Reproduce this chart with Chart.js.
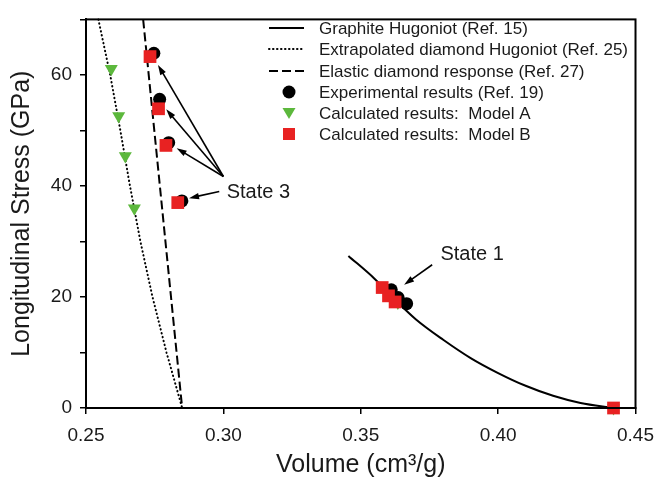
<!DOCTYPE html>
<html>
<head>
<meta charset="utf-8">
<script src="https://cdn.jsdelivr.net/npm/chart.js@4"></script>
<style>
  html, body { margin: 0; padding: 0; background: #fff; }
  #wrap { width: 664px; height: 481px; }
</style>
</head>
<body>
<div id="wrap"><canvas id="hugoniotChart" width="664" height="481"></canvas></div>
<script>
// graphite Hugoniot (Ref. 15)
const graphiteV = [0.3455, 0.3550, 0.3625, 0.3700, 0.3800, 0.3900, 0.4000, 0.4100, 0.4200, 0.4300, 0.4420];
const graphiteP = [27.4, 23.3, 19.5, 16.0, 12.3, 9.0, 6.3, 4.0, 2.2, 0.9, 0.0];

// extrapolated diamond Hugoniot (Ref. 25)
const diamondV = [0.2545, 0.2588, 0.2625, 0.2660, 0.2698, 0.2742, 0.2793, 0.2850];
const diamondP = [70, 60, 50, 40, 30, 20, 10, 0];

// elastic diamond response (Ref. 27)
const elasticV = [0.2708, 0.2850];
const elasticP = [70, 0];

// experimental results (Ref. 19)
const expV = [0.2747, 0.2768, 0.2801, 0.2849, 0.3611, 0.3636, 0.3667];
const expP = [63.9, 55.6, 47.8, 37.3, 21.3, 19.9, 18.8];

// model A
const modelAV = [0.2592, 0.2619, 0.2643, 0.2676, 0.3603, 0.3618, 0.3635, 0.4420];
const modelAP = [61.1, 52.6, 45.4, 36.0, 21.0, 20.0, 19.0, 0.0];

// model B
const modelBV = [0.2733, 0.2764, 0.2791, 0.2834, 0.3578, 0.3601, 0.3625, 0.4420];
const modelBP = [63.3, 53.9, 47.3, 37.0, 21.7, 20.2, 19.1, 0.0];

// annotations
const arrowFrom = [[0.3000, 41.7], [0.3000, 41.7], [0.3000, 41.7], [0.2985, 39.0], [0.3760, 25.8]];
const arrowTo = [[0.2762, 61.8], [0.2792, 53.8], [0.2830, 46.8], [0.2875, 37.8], [0.3658, 22.2]];
const noteText = ["State 3", "State 1"];
const notePos = [[0.3012, 38.8], [0.3790, 27.6]];

const legendLabels = [
  "Graphite Hugoniot (Ref. 15)",
  "Extrapolated diamond Hugoniot (Ref. 25)",
  "Elastic diamond response (Ref. 27)",
  "Experimental results (Ref. 19)",
  "Calculated results:  Model A",
  "Calculated results:  Model B"
];

const FONT = "'Liberation Sans', Arial, sans-serif";
const TXT = "#1a1a1a";
const GREEN = "#5cb83c";
const RED = "#e82222";

function pts(xs, ys) {
  return xs.map((x, i) => ({ x, y: ys[i] }));
}

// frame round the plot area
const framePlugin = {
  id: "frame",
  afterDatasetsDraw(chart) {
    const a = chart.chartArea;
    const ctx = chart.ctx;
    ctx.save();
    ctx.strokeStyle = "#000";
    ctx.lineWidth = 2;
    ctx.strokeRect(a.left, a.top, a.right - a.left, a.bottom - a.top);
    ctx.restore();
  }
};

function arrow(ctx, x1, y1, x2, y2) {
  const ang = Math.atan2(y2 - y1, x2 - x1);
  const len = 10, w = 3.2;
  ctx.beginPath();
  ctx.moveTo(x1, y1);
  ctx.lineTo(x2 - Math.cos(ang) * len * 0.7, y2 - Math.sin(ang) * len * 0.7);
  ctx.stroke();
  ctx.beginPath();
  ctx.moveTo(x2, y2);
  ctx.lineTo(x2 - Math.cos(ang) * len - Math.sin(ang) * w, y2 - Math.sin(ang) * len + Math.cos(ang) * w);
  ctx.lineTo(x2 - Math.cos(ang) * len + Math.sin(ang) * w, y2 - Math.sin(ang) * len - Math.cos(ang) * w);
  ctx.closePath();
  ctx.fill();
}

const notesPlugin = {
  id: "notes",
  afterDatasetsDraw(chart) {
    const xs = chart.scales.x, ys = chart.scales.y;
    const ctx = chart.ctx;
    ctx.save();
    ctx.strokeStyle = "#000";
    ctx.fillStyle = "#000";
    ctx.lineWidth = 1.6;
    arrowFrom.forEach((f, i) => {
      const t = arrowTo[i];
      arrow(ctx, xs.getPixelForValue(f[0]), ys.getPixelForValue(f[1]),
        xs.getPixelForValue(t[0]), ys.getPixelForValue(t[1]));
    });
    ctx.fillStyle = TXT;
    ctx.font = "20px " + FONT;
    ctx.textAlign = "left";
    ctx.textBaseline = "middle";
    noteText.forEach((t, i) => {
      ctx.fillText(t, xs.getPixelForValue(notePos[i][0]), ys.getPixelForValue(notePos[i][1]));
    });
    ctx.restore();
  }
};

// legend drawn by hand so the line samples and markers match
const legendPlugin = {
  id: "handLegend",
  afterDraw(chart) {
    const ctx = chart.ctx;
    const x0 = 269, x1 = 304, mx = 289, tx = 319;
    const rowY = [28, 49, 71, 92, 113, 134];
    ctx.save();
    ctx.strokeStyle = "#000";
    ctx.lineWidth = 2;
    // lines
    ctx.beginPath(); ctx.moveTo(x0, rowY[0]); ctx.lineTo(x1, rowY[0]); ctx.stroke();
    ctx.lineCap = "round";
    ctx.setLineDash([0.5, 3.5]);
    ctx.beginPath(); ctx.moveTo(x0, rowY[1]); ctx.lineTo(x1, rowY[1]); ctx.stroke();
    ctx.lineCap = "butt";
    ctx.setLineDash([9, 4]);
    ctx.beginPath(); ctx.moveTo(x0, rowY[2]); ctx.lineTo(x1, rowY[2]); ctx.stroke();
    ctx.setLineDash([]);
    // markers
    ctx.fillStyle = "#000";
    ctx.beginPath(); ctx.arc(mx, rowY[3], 6.5, 0, Math.PI * 2); ctx.fill();
    ctx.fillStyle = GREEN;
    ctx.beginPath();
    ctx.moveTo(mx - 6.5, rowY[4] - 5);
    ctx.lineTo(mx + 6.5, rowY[4] - 5);
    ctx.lineTo(mx, rowY[4] + 6);
    ctx.closePath(); ctx.fill();
    ctx.fillStyle = RED;
    ctx.fillRect(mx - 6, rowY[5] - 6, 12, 12);
    // texts
    ctx.fillStyle = TXT;
    ctx.font = "17px " + FONT;
    ctx.textAlign = "left";
    ctx.textBaseline = "middle";
    legendLabels.forEach((t, i) => ctx.fillText(t, tx, rowY[i] + 1));
    ctx.restore();
  }
};

const config = {
  type: "scatter",
  data: {
    datasets: [
      {
        label: legendLabels[5],
        data: pts(modelBV, modelBP),
        pointStyle: "rect",
        pointRadius: 9,
        pointHoverRadius: 9,
        backgroundColor: RED,
        borderColor: RED,
        borderWidth: 0,
        order: 1
      },
      {
        label: legendLabels[3],
        data: pts(expV, expP),
        pointStyle: "circle",
        pointRadius: 6.5,
        pointHoverRadius: 6.5,
        backgroundColor: "#000",
        borderColor: "#000",
        borderWidth: 0,
        order: 2
      },
      {
        label: legendLabels[4],
        data: pts(modelAV, modelAP),
        pointStyle: "triangle",
        rotation: 180,
        pointRadius: 7.5,
        pointHoverRadius: 7.5,
        backgroundColor: GREEN,
        borderColor: GREEN,
        borderWidth: 0,
        order: 3
      },
      {
        label: legendLabels[0],
        data: pts(graphiteV, graphiteP),
        showLine: true,
        cubicInterpolationMode: "monotone",
        borderColor: "#000",
        borderWidth: 2,
        pointRadius: 0,
        order: 4
      },
      {
        label: legendLabels[1],
        data: pts(diamondV, diamondP),
        showLine: true,
        borderColor: "#000",
        borderWidth: 2,
        borderCapStyle: "round",
        borderDash: [0.5, 3.5],
        pointRadius: 0,
        order: 5
      },
      {
        label: legendLabels[2],
        data: pts(elasticV, elasticP),
        showLine: true,
        borderColor: "#000",
        borderWidth: 2,
        borderDash: [9, 4],
        pointRadius: 0,
        order: 6
      }
    ]
  },
  options: {
    responsive: false,
    animation: false,
    clip: false,
    layout: { padding: { left: 0, right: 20, top: 9, bottom: 0 } },
    plugins: {
      legend: { display: false },
      tooltip: { enabled: false }
    },
    scales: {
      x: {
        type: "linear",
        min: 0.25,
        max: 0.45,
        afterFit: s => { s.height = 73; },
        border: { display: true, color: "#000", width: 2 },
        grid: { display: true, drawOnChartArea: false, drawTicks: true, tickLength: 6, color: "#000", lineWidth: 1.5 },
        ticks: {
          stepSize: 0.05,
          padding: 10,
          color: TXT,
          font: { family: FONT, size: 19 },
          callback: v => v.toFixed(2)
        },
        title: {
          display: true,
          text: "Volume (cm³/g)",
          color: TXT,
          font: { family: FONT, size: 25 },
          padding: { top: 0, bottom: 1 }
        }
      },
      y: {
        type: "linear",
        min: 0,
        max: 70,
        afterFit: s => { s.width = 86; },
        border: { display: true, color: "#000", width: 2 },
        grid: { display: true, drawOnChartArea: false, drawTicks: true, tickLength: 6, color: "#000", lineWidth: 1.5 },
        ticks: {
          stepSize: 10,
          padding: 8,
          color: TXT,
          font: { family: FONT, size: 19 },
          callback: v => (v % 20 === 0 ? v : "")
        },
        title: {
          display: true,
          text: "Longitudinal Stress (GPa)",
          color: TXT,
          font: { family: FONT, size: 25 },
          padding: { top: 7, bottom: 0 }
        }
      }
    }
  },
  plugins: [framePlugin, notesPlugin, legendPlugin]
};

const hugoniotChart = new Chart(document.getElementById("hugoniotChart"), config);
</script>
</body>
</html>
